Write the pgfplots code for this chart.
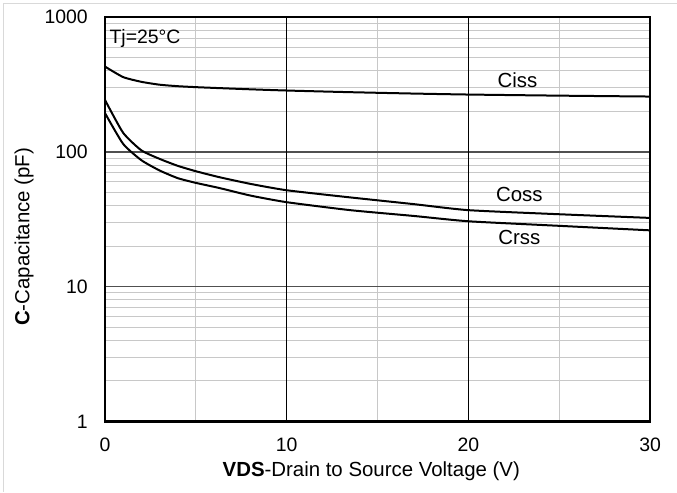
\documentclass[border=0pt]{standalone}
\usepackage{pgfplots}
\pgfplotsset{compat=1.18}
\usepackage{fontspec}
\setmainfont{Liberation Sans}

\definecolor{minorgrid}{HTML}{C8C8C8}
\definecolor{majorgrid}{HTML}{505050}
\definecolor{outerline}{HTML}{D9D9D9}

\newcommand{\tickfont}{\fontsize{19.5}{23}\selectfont}
\newcommand{\labelfont}{\fontsize{20.5}{24}\selectfont}

\tikzset{curve/.style={black, line width=2bp, smooth, tension=0.35, mark=none}}

\begin{document}
\begin{tikzpicture}
    \begin{axis}[
        at={(105bp,-421.7bp)}, anchor=south west,
        scale only axis,
        width=545.7bp, height=404.4bp,
        ymode=log,
        xmin=0, xmax=30,
        ymin=1, ymax=1000,
        xtick={0,30},
        extra x ticks={10,20},
        extra x tick style={grid=major, major grid style={black, line width=0.9bp}},
        minor xtick={5,15,25},
        ytick={1,10,100,1000},
        yticklabels={1,10,100,1000},
        minor ytick={2,3,...,9,20,30,...,90,200,300,...,900},
        ymajorgrids, xminorgrids, yminorgrids,
        major grid style={majorgrid, line width=1.2bp},
        minor grid style={minorgrid, line width=1bp},
        major tick length=0pt, minor tick length=0pt,
        axis line style={black, line width=2.4bp},
        /pgf/number format/assume math mode=true,
        tick label style={font=\tickfont},
        xticklabel style={inner sep=0pt, yshift=-16bp},
        yticklabel style={inner sep=0pt, xshift=-17bp},
        xlabel={\textbf{VDS}-Drain to Source Voltage (V)},
        ylabel={\textbf{C}-Capacitance (pF)},
        label style={font=\labelfont},
        xlabel style={at={(axis description cs:0.4884,-0.1367)}, anchor=base},
        ylabel style={at={(axis description cs:-0.1384,0.4567)}, anchor=base},
    ]
    % Ciss
    \addplot[curve] coordinates {
        (0,431) (1,360) (2,332) (3,316) (4,308) (5,303) (6.3,298) (8,292)
        (10,286) (13.5,278) (17,271.5) (20,267) (25,262) (30,258)
    };
    % Coss
    \addplot[curve] coordinates {
        (0,244) (1,139) (2,103) (3,89) (4,79) (5,72) (6.3,65) (8,58)
        (10,52) (13.5,46) (17,41) (20,37) (25,34.5) (30,32.4)
    };
    % Crss
    \addplot[curve] coordinates {
        (0,195) (1,115) (2,87) (3,73) (4,64) (5,59) (6.3,54) (8,47.5)
        (10,42.4) (13.5,37) (17,33.5) (20,30.6) (25,28.3) (30,26.2)
    };
    \node[anchor=base, font=\labelfont] at (axis cs:22.7,299) {Ciss};
    \node[anchor=base, font=\labelfont] at (axis cs:22.8,42.9) {Coss};
    \node[anchor=base, font=\labelfont] at (axis cs:22.8,20.6) {Crss};
    \node[anchor=base west, inner sep=0pt, font=\tickfont] at (rel axis cs:0,1)
        [xshift=4.5bp, yshift=-26.7bp] {Tj=25°C};
    \end{axis}
    \pgfresetboundingbox
    \path (0,0) rectangle (677bp,-492bp);
    \draw[outerline, line width=1bp] (3.3bp,-492bp) -- (3.3bp,-3.3bp) -- (677bp,-3.3bp);
\end{tikzpicture}
\end{document}
